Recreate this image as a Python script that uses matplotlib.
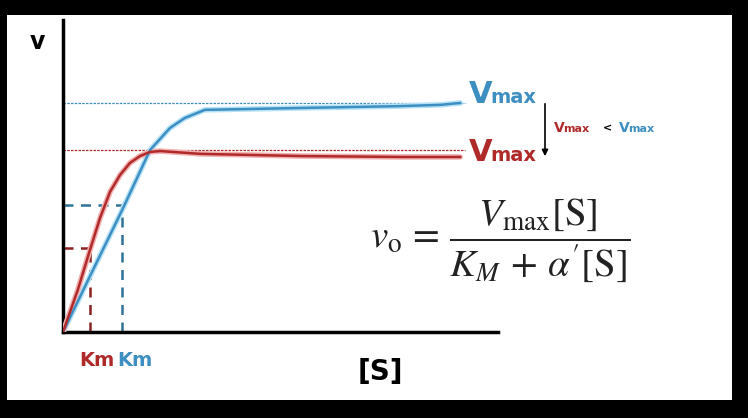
import matplotlib
matplotlib.use("Agg")
import matplotlib.pyplot as plt
import matplotlib.patches as patches

BLUE = "#3d8fc2"
RED = "#b02a2a"

# substrate concentration [S] and rate v (arbitrary units)
blue_s = [0, 0.69, 1.36, 2.0, 2.46, 2.8, 3.26, 5.45, 7.75, 8.67, 9.13]
blue_v = [0, 1.99, 3.91, 5.83, 6.54, 6.86, 7.12, 7.18, 7.24, 7.28, 7.34]
red_s = [0, 0.34, 0.62, 0.85, 1.08, 1.31, 1.54, 1.77, 2.0, 2.23, 3.15, 5.45, 7.75, 9.13]
red_v = [0, 1.35, 2.63, 3.65, 4.49, 5.03, 5.42, 5.64, 5.77, 5.80, 5.71, 5.64, 5.61, 5.61]
blue_vmax, red_vmax = 7.34, 5.83
blue_km, blue_half = 1.36, 4.07
red_km, red_half = 0.62, 2.69

W, H = 748, 418
fig = plt.figure(figsize=(W / 100, H / 100), dpi=100)
fig.patch.set_facecolor("black")
plt.rcParams["mathtext.fontset"] = "stix"

# background canvas in pixel coords for the white panel and labels
bg = fig.add_axes([0, 0, 1, 1])
bg.set_xlim(0, W)
bg.set_ylim(H, 0)
bg.axis("off")
bg.add_patch(patches.Rectangle((7, 15), 725, 385, facecolor="white", edgecolor="none"))

# main axes: origin at pixel (63,332), width 435, height 312
ax = fig.add_axes([63 / W, (H - 332) / H, 435 / W, 312 / H])
ax.patch.set_alpha(0)
ax.set_xlim(0, 10)
ax.set_ylim(0, 10)
for s in ("top", "right"):
    ax.spines[s].set_visible(False)
for s in ("left", "bottom"):
    ax.spines[s].set_linewidth(2.5)
ax.set_xticks([])
ax.set_yticks([])

ax.axhline(blue_vmax, xmax=0.925, color=BLUE, ls=(0, (2, 1)), lw=0.9)
ax.axhline(red_vmax, xmax=0.925, color=RED, ls=(0, (2, 1)), lw=0.9)

for s, v, c, glow in ((blue_s, blue_v, BLUE, "#b5e3f5"), (red_s, red_v, RED, "#f0b0b0")):
    ax.plot(s, v, color=glow, lw=4, solid_capstyle="round", zorder=3)
    ax.plot(s, v, color=c, lw=1.8, zorder=4)

for km, half, c in ((red_km, red_half, "#8a2020"), (blue_km, blue_half, "#2f7398")):
    ax.plot([0, km], [half, half], color=c, ls=(0, (4, 3)), lw=1.8, zorder=2)
    ax.plot([km, km], [0, half], color=c, ls=(0, (4, 3)), lw=1.8, zorder=2)

# labels
bg.text(30, 42, "v", fontsize=17, fontweight="bold", ha="left", va="center")
bg.text(358, 372, "[S]", fontsize=20, fontweight="bold", ha="left", va="center")
bg.text(79, 360, "Km", fontsize=14, fontweight="bold", color=RED, ha="left", va="center")
bg.text(117, 360, "Km", fontsize=14, fontweight="bold", color=BLUE, ha="left", va="center")

def vmax_label(x, y, c, big, small):
    bg.text(x, y, "V", fontsize=big, fontweight="bold", color=c, ha="left", va="baseline")
    bg.text(x + big * 0.95, y, "max", fontsize=small, fontweight="bold", color=c,
            ha="left", va="baseline")

vmax_label(469, 103, BLUE, 22, 14)
vmax_label(469, 161, RED, 22, 14)
vmax_label(554, 132, RED, 10, 8)
bg.text(603, 131, "<", fontsize=8, fontweight="bold", color="black", ha="left", va="baseline")
vmax_label(619, 132, BLUE, 10, 8)
bg.annotate("", xy=(545, 159), xytext=(545, 101),
            arrowprops=dict(arrowstyle="-|>", color="black", lw=1.2, mutation_scale=9))

bg.text(370, 240, r"$v_{\rm o}\,=\,\dfrac{V_{\rm max}[{\rm S}]}{K_M\,+\,\alpha'[{\rm S}]}$",
        fontsize=28, color="#222222", ha="left", va="center")

fig.savefig("out.png", dpi=100, facecolor=fig.get_facecolor())
